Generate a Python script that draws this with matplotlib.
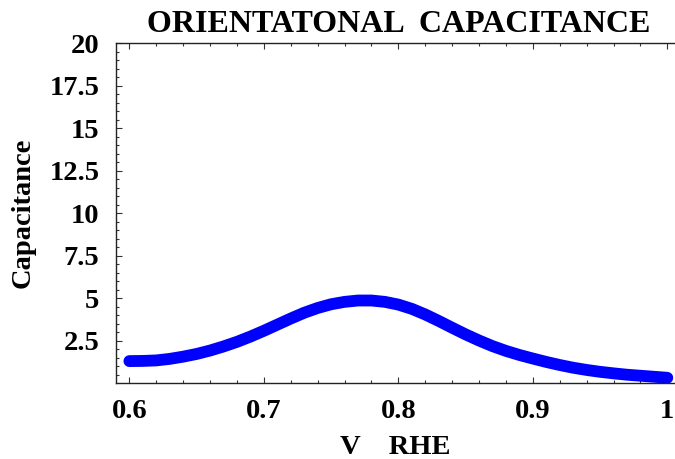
import matplotlib.pyplot as plt
from matplotlib.ticker import MultipleLocator

# values
voltage = [0.60, 0.61, 0.62, 0.63, 0.64, 0.65, 0.66, 0.67, 0.68, 0.69,
           0.70, 0.71, 0.72, 0.73, 0.74, 0.75, 0.76, 0.77, 0.78, 0.79,
           0.80, 0.81, 0.82, 0.83, 0.84, 0.85, 0.86, 0.87, 0.88, 0.89,
           0.90, 0.91, 0.92, 0.93, 0.94, 0.95, 0.96, 0.97, 0.98, 0.99,
           1.00]
capacitance = [1.31, 1.32, 1.35, 1.44, 1.57, 1.73, 1.93, 2.17, 2.44, 2.75,
               3.09, 3.45, 3.81, 4.15, 4.43, 4.65, 4.79, 4.87, 4.87, 4.79,
               4.63, 4.38, 4.05, 3.67, 3.27, 2.88, 2.52, 2.19, 1.91, 1.67,
               1.46, 1.26, 1.08, 0.92, 0.79, 0.68, 0.59, 0.51, 0.45, 0.39,
               0.33]

x_ticks = [0.6, 0.7, 0.8, 0.9, 1.0]
x_tick_labels = ["0.6", "0.7", "0.8", "0.9", "1"]
y_ticks = [2.5, 5, 7.5, 10, 12.5, 15, 17.5, 20]
y_tick_labels = ["2.5", "5", "7.5", "10", "12.5", "15", "17.5", "20"]

plt.rcParams['font.family'] = ['Liberation Serif', 'DejaVu Serif']
plt.rcParams['font.weight'] = 'bold'

fig = plt.figure(figsize=(6.75, 4.59), dpi=100)
ax = fig.add_axes([0.1719, 0.1662, 0.8281, 0.7401])

ax.plot(voltage, capacitance, color='#0000ff', linewidth=8.5,
        solid_capstyle='round', solid_joinstyle='round')

ax.set_xlim(0.5901, 1.0057)
ax.set_ylim(0.04, 20)

ax.set_xticks(x_ticks)
ax.set_xticklabels(x_tick_labels)
ax.set_yticks(y_ticks)
ax.set_yticklabels(y_tick_labels)
ax.xaxis.set_minor_locator(MultipleLocator(0.02))
ax.yaxis.set_minor_locator(MultipleLocator(0.5))

ax.tick_params(which='both', direction='in', top=True, right=False,
               labeltop=False, width=0.8, color='#333333')
ax.tick_params(which='major', length=4, labelsize=20.5, pad=12)
ax.tick_params(which='minor', length=2.5)
for lab in ax.get_xticklabels() + ax.get_yticklabels():
    lab.set_fontweight('bold')

ax.spines['right'].set_visible(False)
for s in ['left', 'bottom', 'top']:
    ax.spines[s].set_linewidth(1.0)
    ax.spines[s].set_color('#222222')

ax.set_xlabel('V    RHE', fontsize=20.5, fontweight='bold', labelpad=8)
ax.set_ylabel('Capacitance', fontsize=20.5, fontweight='bold', labelpad=10)
ax.set_title('ORIENTATONAL  CAPACITANCE', fontsize=23, fontweight='bold',
             pad=8, x=0.505)

fig.savefig('out.png', dpi=100)
